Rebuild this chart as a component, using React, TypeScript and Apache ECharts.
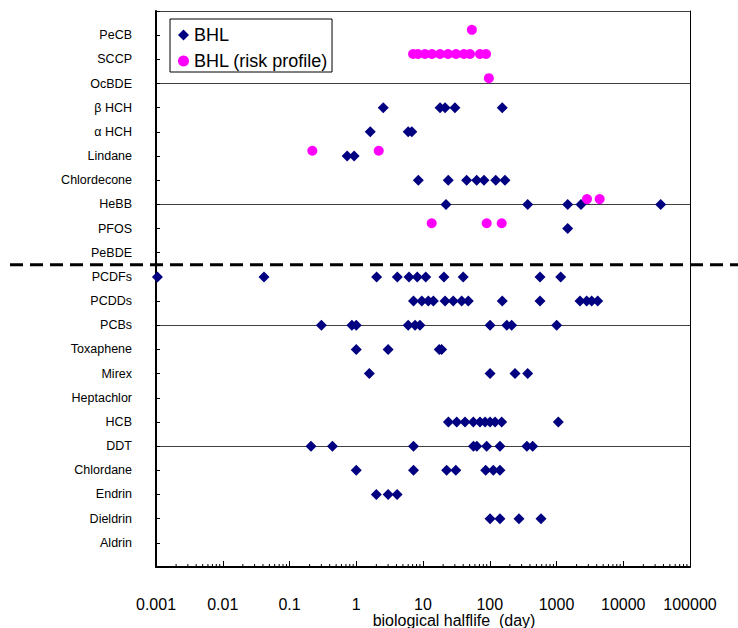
import React, { useEffect, useRef } from "react";
import * as echarts from "echarts";

const FONT = "'Liberation Sans', Arial, sans-serif";

// categories from bottom (1) to top (22)
const categories = [
  "Aldrin", "Dieldrin", "Endrin", "Chlordane", "DDT", "HCB", "Heptachlor", "Mirex",
  "Toxaphene", "PCBs", "PCDDs", "PCDFs", "PeBDE", "PFOS", "HeBB", "Chlordecone",
  "Lindane", "α HCH", "β HCH", "OcBDE", "SCCP", "PeCB",
];

// BHL values (days), same order as categories
const bhlValues: number[][] = [
  [],
  [101, 142, 274, 586],
  [2.0, 3.0, 4.1],
  [1.0, 7.2, 22.6, 31, 87, 113, 142],
  [0.21, 0.44, 7.2, 57, 64, 90, 142, 360, 440],
  [24, 32, 42.6, 56.7, 71.4, 85, 101, 120, 151, 1064],
  [],
  [1.57, 101, 239, 370],
  [1.0, 3.0, 17.5, 19],
  [0.3, 0.86, 1.0, 6.0, 7.6, 9.0, 101, 180, 213, 1007],
  [7.2, 9.6, 12, 14.3, 21.4, 28.4, 38, 47.7, 154, 566, 2250, 2832, 3367, 4140],
  [0.00105, 0.0415, 2.02, 4.12, 6.17, 8.2, 11, 20.6, 40, 566, 1156],
  [],
  [1472],
  [22.1, 370, 1472, 2329, 36400],
  [8.5, 23.9, 45, 63.7, 82, 123, 169],
  [0.73, 0.93],
  [1.62, 6.0, 6.8],
  [2.54, 18, 21.4, 30.1, 154],
  [],
  [],
  [],
];

// BHL (risk profile) values
const riskCategories = ["PeCB", "SCCP", "OcBDE", "Lindane", "HeBB", "PFOS"];
const riskValues: number[][] = [
  [54],
  [7.1, 8.4, 10.7, 13.6, 18, 23.7, 31.2, 41, 50.6, 71.4, 88],
  [97],
  [0.22, 2.17],
  [2864, 4436],
  [13.5, 90, 151],
];
const RISK_OFFSET = 0.22;

const xTickExponents = [-3, -2, -1, 0, 1, 2, 3, 4, 5];
const minorMultipliers = [2, 3, 4, 5, 6, 7, 8, 9];

const DIVIDER_Y = 12.5;

export default function App() {
  const ref = useRef<HTMLDivElement>(null);

  useEffect(() => {
    document.body.style.margin = "0";
    if (!ref.current) return;
    const chart = echarts.init(ref.current, undefined, { renderer: "svg" });

    const bhlData: number[][] = [];
    bhlValues.forEach((vals, i) => vals.forEach((v) => bhlData.push([v, i + 1])));
    const riskData: number[][] = [];
    riskValues.forEach((vals, i) => {
      const idx = categories.indexOf(riskCategories[i]) + 1;
      vals.forEach((v) => riskData.push([v, idx + RISK_OFFSET]));
    });
    const minorData: number[][] = [];
    xTickExponents.slice(0, -1).forEach((e) =>
      minorMultipliers.forEach((m) => minorData.push([m * Math.pow(10, e), 0]))
    );

    const fmtX = (v: number) => {
      const e = Math.round(Math.log10(v));
      return e < 0 ? Math.pow(10, e).toFixed(-e) : String(Math.pow(10, e));
    };

    chart.setOption({
      animation: false,
      backgroundColor: "#fff",
      textStyle: { fontFamily: FONT },
      grid: { left: 156, right: 48, top: 11, bottom: 61, containLabel: false },
      legend: {
        left: 170,
        top: 19,
        orient: "vertical",
        borderColor: "#000",
        borderWidth: 1,
        backgroundColor: "#fff",
        padding: [6, 4, 1, 8],
        itemGap: 6,
        itemWidth: 11,
        itemHeight: 11,
        textStyle: { fontSize: 18, fontFamily: FONT, color: "#000", lineHeight: 20 },
        data: [
          { name: "BHL", icon: "diamond" },
          { name: "BHL (risk profile)", icon: "circle" },
        ],
        z: 20,
      },
      xAxis: {
        type: "log",
        logBase: 10,
        min: 0.001,
        max: 100000,
        axisLine: { lineStyle: { color: "#000", width: 2 } },
        axisTick: { inside: true, length: 6, lineStyle: { color: "#000" } },
        axisLabel: {
          formatter: fmtX,
          fontSize: 16,
          color: "#000",
          margin: 29,
          fontFamily: FONT,
        },
        splitLine: { show: false },
      },
      yAxis: [
        {
          type: "value",
          min: 0,
          max: 23,
          interval: 1,
          axisLine: { show: true, lineStyle: { color: "#000", width: 2 } },
          axisTick: { show: true, inside: true, length: 4, lineStyle: { color: "#000" } },
          axisLabel: {
            formatter: (v: number) => (v >= 1 && v <= categories.length ? categories[v - 1] : ""),
            fontSize: 12.5,
            color: "#000",
            margin: 24,
            fontFamily: FONT,
          },
          splitLine: { show: false },
        },
        {
          type: "value",
          min: 0,
          max: 23,
          interval: 5,
          position: "right",
          axisLine: { show: true, lineStyle: { color: "#000", width: 1 } },
          axisTick: { show: false },
          axisLabel: { show: false },
          splitLine: { show: true, lineStyle: { color: "#404040", width: 1 } },
        },
      ],
      series: [
        {
          type: "custom",
          name: "minorTicks",
          silent: true,
          clip: false,
          data: minorData,
          encode: { x: 0, y: 1 },
          renderItem: (_p: any, api: any) => {
            const pt = api.coord([api.value(0), 0]);
            return {
              type: "line",
              shape: { x1: pt[0], y1: pt[1], x2: pt[0], y2: pt[1] - 3 },
              style: { stroke: "#000", lineWidth: 1 },
            };
          },
        },
        {
          type: "scatter",
          name: "BHL",
          symbol: "diamond",
          symbolSize: 11,
          itemStyle: { color: "#000080", opacity: 1 },
          data: bhlData,
          z: 3,
        },
        {
          type: "scatter",
          name: "BHL (risk profile)",
          symbol: "circle",
          symbolSize: 10,
          itemStyle: { color: "#FF00FF", opacity: 1 },
          data: riskData,
          z: 4,
        },
      ],
    });

    const yPix = chart.convertToPixel({ yAxisIndex: 0 }, DIVIDER_Y) as number;
    chart.setOption({
      graphic: [
        {
          type: "line",
          shape: { x1: 10, y1: yPix, x2: 738, y2: yPix },
          style: { stroke: "#000", lineWidth: 3, lineDash: [13, 7] },
          z: 10,
        },
        {
          type: "text",
          x: 454,
          y: 620,
          style: {
            text: "biological halflife  (day)",
            fontSize: 16,
            fontFamily: FONT,
            fill: "#000",
            textAlign: "center",
            textVerticalAlign: "middle",
          },
        },
      ],
    });

    return () => chart.dispose();
  }, []);

  return <div ref={ref} style={{ width: 738, height: 628 }} />;
}
